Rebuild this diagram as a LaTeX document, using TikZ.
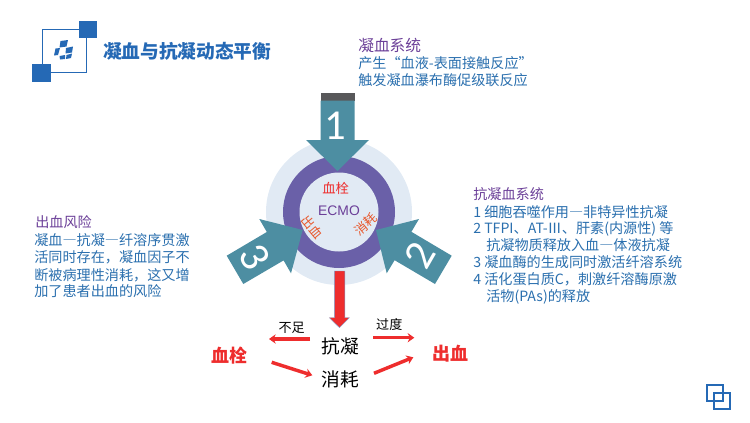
\documentclass[tikz,border=0pt]{standalone}
\usepackage{fontspec}
\setmainfont{Noto Sans CJK SC}
\newfontfamily\digitfont{Carlito}
\newfontfamily\arialish{Liberation Sans}
\usetikzlibrary{calc, arrows.meta}
\definecolor{logoblue}{HTML}{2569B5}
\definecolor{textblue}{HTML}{2A6FAE}
\definecolor{headpurple}{HTML}{6B3F98}
\definecolor{ringpurple}{HTML}{6A60A8}
\definecolor{paleblue}{HTML}{E1EAF4}
\definecolor{tealarrow}{HTML}{4D8EA2}
\definecolor{darkband}{HTML}{58585A}
\definecolor{alarmred}{HTML}{EE2D2D}
\definecolor{burnt}{HTML}{E8562A}
\newcommand{\longdash}{{\addfontfeature{RawFeature=+fwid}—}}
\tikzset{
  bodytext/.style={anchor=west, inner sep=0pt, text=textblue, font=\fontsize{10.6}{12}\selectfont},
  headtext/.style={anchor=west, inner sep=0pt, text=headpurple, font=\fontsize{10.6}{12}\selectfont},
  bigdigit/.style={inner sep=0pt, text=white, font=\digitfont\fontsize{32}{33}\selectfont},
  ringtext/.style={inner sep=0pt, text=burnt, font=\fontsize{9.5}{10}\selectfont},
  hugetext/.style={inner sep=0pt, font=\fontsize{14}{15}\selectfont},
  alarmtext/.style={inner sep=0pt, text=alarmred, font=\fontsize{13.5}{14}\selectfont\bfseries},
  smalltext/.style={inner sep=0pt, font=\fontsize{9.8}{10}\selectfont},
  redarrow/.style={draw=alarmred, line width=2.6pt, -{Stealth[length=5pt,width=7pt]}},
  bigarrow/.style={fill=tealarrow}
}
\begin{document}
\begin{tikzpicture}[x=0.75pt, y=-0.75pt]
  \useasboundingbox (0,0) rectangle (750,422);

  % Logo
  \draw[logoblue, line width=1pt] (42.7,29.3) rectangle (86.7,72.7);
  \fill[logoblue] (79,20.7) rectangle (97.3,38.3);
  \fill[logoblue] (32.3,64.3) rectangle (50.7,82.3);
  \fill[logoblue] (60.5,41) -- (68,40) -- (66.5,46.5) -- (59.5,47.5) -- cycle;
  \fill[logoblue] (55.5,48.5) -- (60,48) -- (58,55) -- (54,55.5) -- cycle;
  \fill[logoblue] (66,48) -- (73,46.5) -- (72,52.5) -- (65.5,53.5) -- cycle;
  \fill[logoblue] (59.5,56) -- (65,55) -- (65,59) -- (60,59.5) -- cycle;
  \fill[logoblue] (66.5,55) -- (72,53.5) -- (71,58) -- (66,59) -- cycle;
  \node[inner sep=0pt, anchor=west, text=logoblue, font=\fontsize{14}{15}\selectfont\bfseries] (title) at (103,51) {凝血与抗凝动态平衡};

  % Rings
  \fill[paleblue] (339,212) circle (73);
  \fill[ringpurple] (339,212) circle (56);
  \fill[paleblue] (339,212) circle (39.5);

  % Teal arrows
  \fill[darkband] (320.7,93.3) rectangle (354.5,100.7);
  \path[bigarrow] (320.7,100.7) -- (354.5,100.7) -- (354.5,140) -- (369,140) -- (337.5,171) -- (306,140) -- (320.7,140) -- cycle;
  \path[bigarrow] (376,230) -- (419,219) -- (411.4,231.8) -- (451.7,255.7) -- (435,284) -- (394.6,260.2) -- (386.7,273.3) -- cycle;
  \path[bigarrow] (302.7,230) -- (259.3,219) -- (266.8,232) -- (226.7,255.7) -- (243.3,284) -- (283.6,260.4) -- (291,273.3) -- cycle;
  \node[bigdigit] (one) at (335,126) {1};
  \node[bigdigit, rotate=60] (two) at (420,255) {2};
  \node[bigdigit, rotate=-60] (three) at (255,257) {3};

  % Inside the ring
  \node[inner sep=0pt, text=alarmred, font=\fontsize{10}{11}\selectfont] (clot) at (335.7,188.3) {血栓};
  \node[inner sep=0pt, text=headpurple, font=\arialish\fontsize{10.4}{11}\selectfont] (ecmo) at (339,211) {ECMO};
  \node[ringtext, rotate=40] (wear) at (365.7,224.3) {消耗};
  \node[ringtext, rotate=-50] (bleed) at (312.5,227) {出血};

  % Red down arrow
  \fill[alarmred, draw=logoblue!60, line width=0.3pt] (334.3,271) -- (344.8,271) -- (344.8,317.7) -- (349.3,317.7) -- (339.5,327.7) -- (329.3,317.7) -- (334.3,317.7) -- cycle;

  % Balance
  \node[hugetext] (anti) at (340,346.7) {抗凝};
  \node[hugetext] (consume) at (340,379) {消耗};
  \node[alarmtext] (thrombus) at (229,355.7) {血栓};
  \node[alarmtext] (bleeding) at (450,353.3) {出血};
  \node[smalltext] (lack) at (291.7,327.7) {不足};
  \node[smalltext] (over) at (389.3,324.3) {过度};
  \draw[redarrow] ([shift={(-30,-7.7)}]anti.center) -- ([shift={(40,-16.7)}]thrombus.center);
  \draw[redarrow] ([shift={(33.3,-9)}]anti.center) -- ([shift={(-35.7,-15.6)}]bleeding.center);
  \draw[redarrow] ([shift={(42.7,6.6)}]thrombus.center) -- ([shift={(-27.7,-3.7)}]consume.center);
  \draw[redarrow] ([shift={(34,-5.7)}]consume.center) -- ([shift={(-36.7,4)}]bleeding.center);

  % Top text
  \node[headtext, font=\fontsize{11.8}{12}\selectfont] (toph) at (358,45) {凝血系统};
  \node[bodytext] (top1) at (358,63.5) {产生“血液-表面接触反应”};
  \node[bodytext] (top2) at (358,80.5) {触发凝血瀑布酶促级联反应};

  % Right text
  \node[headtext] (righth) at (473,194) {抗凝血系统};
  \node[bodytext] (right1) at (473,211.7) {1 细胞吞噬作用\longdash 非特异性抗凝};
  \node[bodytext] (right2) at (473,228.7) {2 TFPI、AT-Ⅲ、肝素(内源性) 等};
  \node[bodytext] (right3) at (486,245) {抗凝物质释放入血\longdash 体液抗凝};
  \node[bodytext] (right4) at (473,261.7) {3 凝血酶的生成同时激活纤溶系统};
  \node[bodytext] (right5) at (473,279) {4 活化蛋白质C，刺激纤溶酶原激};
  \node[bodytext] (right6) at (486,296.7) {活物(PAs)的释放};

  % Left text
  \node[headtext] (lefth) at (35,222) {出血风险};
  \node[bodytext] (left1) at (34,240) {凝血\longdash 抗凝\longdash 纤溶序贯激};
  \node[bodytext] (left2) at (34,257) {活同时存在，凝血因子不};
  \node[bodytext] (left3) at (34,275) {断被病理性消耗，这又增};
  \node[bodytext] (left4) at (34,291) {加了患者出血的风险};

  % Corner mark
  \draw[logoblue, line width=1.3pt] (706.7,385) rectangle (722.7,401);
  \draw[logoblue, line width=1.3pt] (714.3,393.3) rectangle (730,409);
\end{tikzpicture}
\end{document}
